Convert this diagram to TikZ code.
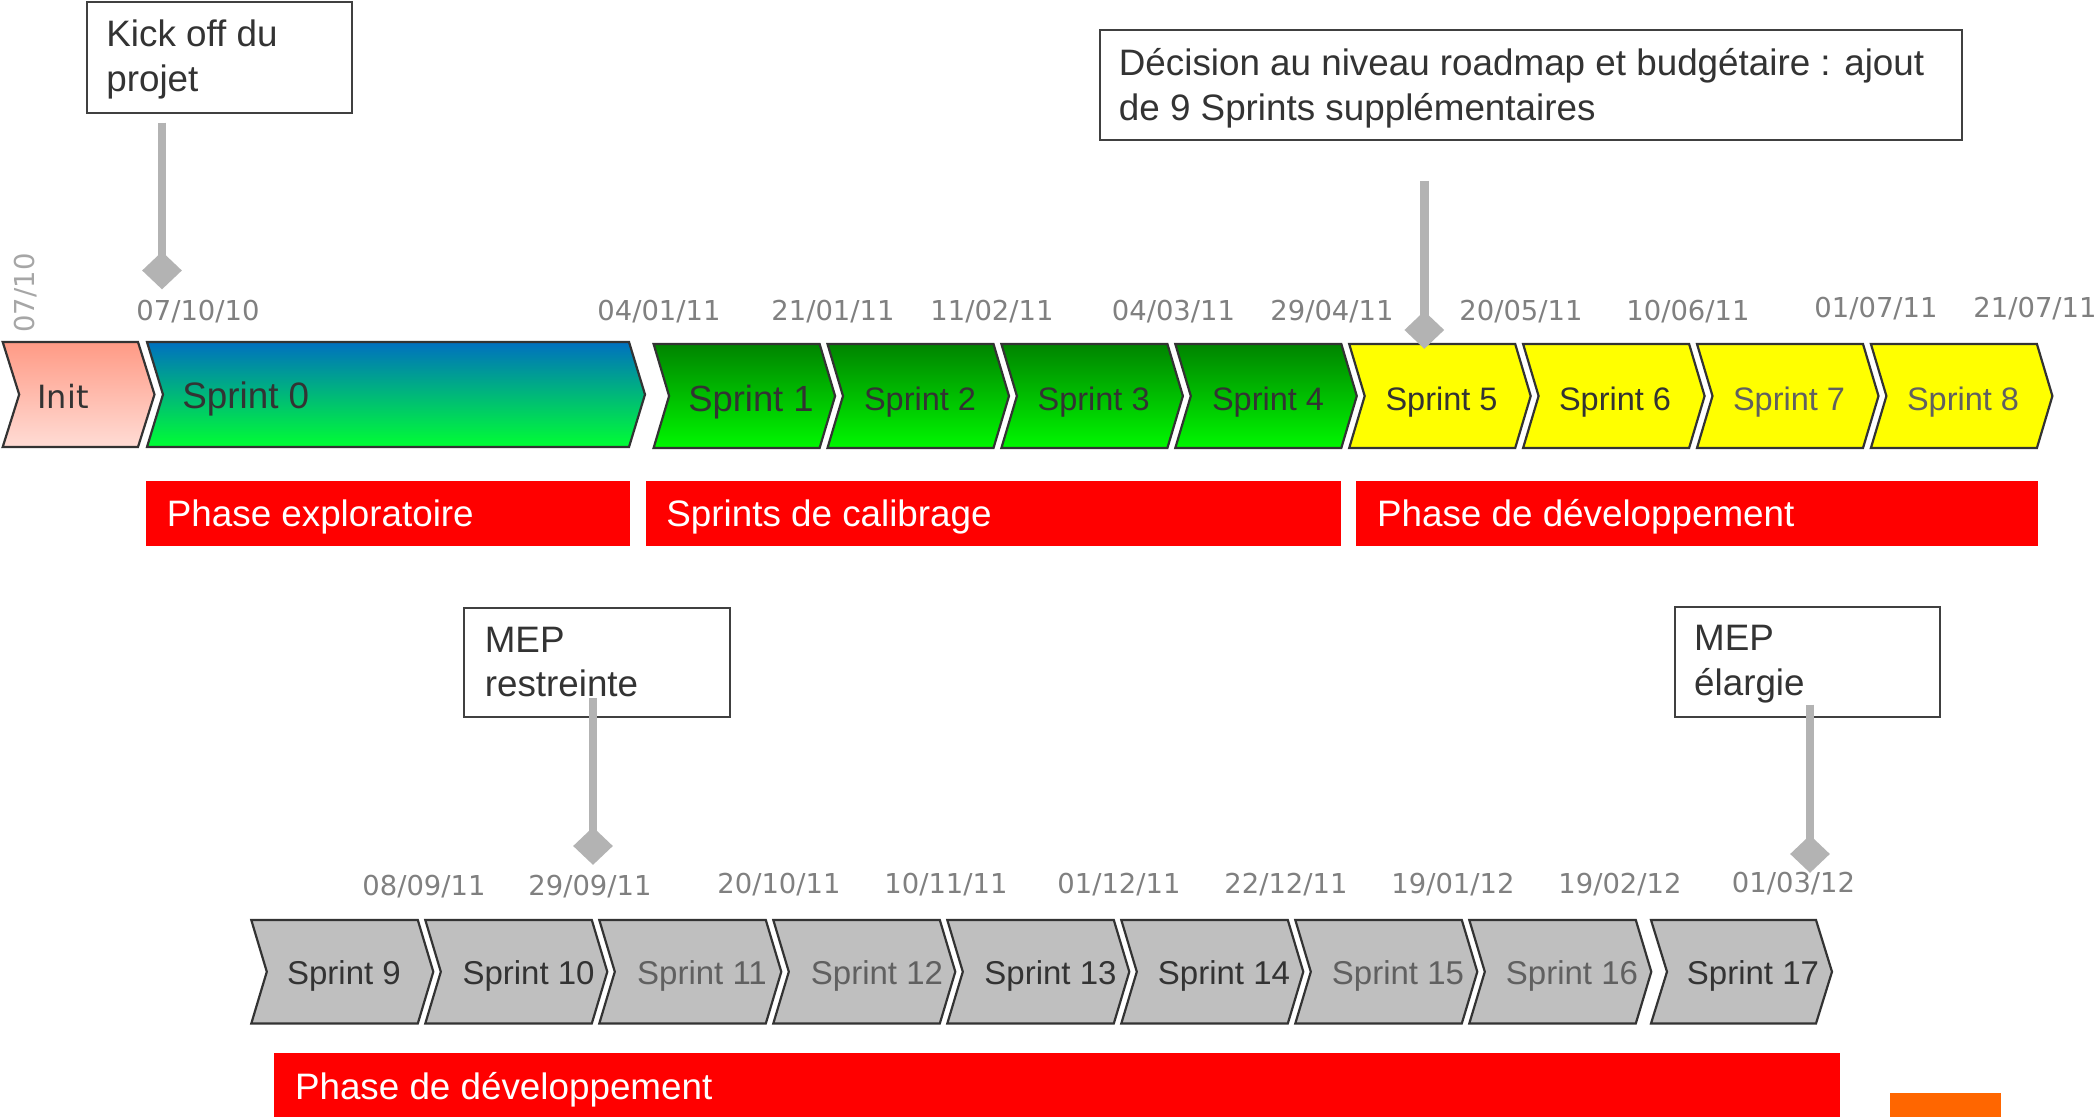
\documentclass[tikz,border=0pt]{standalone}
\usepackage{fontspec}
\setmainfont{Liberation Sans}
\newfontfamily\verdanalike{DejaVu Sans}
\usetikzlibrary{shapes.geometric}
\definecolor{txtdark}{HTML}{333333}
\definecolor{txtlight}{HTML}{606060}
\definecolor{dategray}{HTML}{808080}
\definecolor{dategraylight}{HTML}{A6A6A6}
\definecolor{stemgray}{HTML}{B3B3B3}
\definecolor{boxline}{HTML}{404040}
\definecolor{chevborder}{HTML}{333333}
\definecolor{phasered}{HTML}{FF0000}
\definecolor{orangemark}{HTML}{FF6600}
\definecolor{sprgray}{HTML}{BFBFBF}
\definecolor{spryellow}{HTML}{FFFF00}
\definecolor{sprgreentop}{HTML}{008400}
\definecolor{sprgreenbot}{HTML}{00F800}
\definecolor{inittop}{HTML}{FF9A85}
\definecolor{initbot}{HTML}{FFDCD5}
\definecolor{s0top}{HTML}{0070C0}
\definecolor{s0bot}{HTML}{00FF33}
% #1 left x, #2 top y, #3 bottom y, #4 width, #5 depth, #6 fill options
\newcommand\drawchev[6]{%
  \path[chevline,#6] ({#1},{#2}) -- ({#1+#4},{#2}) -- ({#1+#4+#5},{(#2+#3)/2}) -- ({#1+#4},{#3}) -- ({#1},{#3}) -- ({#1+#5},{(#2+#3)/2}) -- cycle;}
\begin{document}
\begin{tikzpicture}[x=0.5pt,y=-0.5pt,
  callout/.style={draw=boxline, line width=1pt, fill=white, inner sep=0pt, anchor=north west},
  ctext/.style={anchor=base west, inner sep=0pt, text=txtdark, font=\fontsize{18.4}{22}\selectfont},
  datelbl/.style={anchor=base, inner sep=0pt, text=dategray, font=\verdanalike\fontsize{13.7}{16}\selectfont},
  phasebar/.style={fill=phasered, draw=none, inner sep=0pt, anchor=north west},
  phasetext/.style={anchor=base west, inner sep=0pt, text=white, font=\fontsize{18.4}{22}\selectfont},
  chevline/.style={draw=chevborder, line width=1.1pt, line join=miter},
  stem/.style={draw=stemgray, line width=4.3pt},
  milestone/.style={diamond, fill=stemgray, draw=none, inner sep=0pt, minimum width=20pt, minimum height=19pt},
  sprbig/.style={anchor=base, inner sep=0pt, text=txtdark, font=\fontsize{18.2}{22}\selectfont},
  sprsmall/.style={anchor=base, inner sep=0pt, text=txtdark, font=\fontsize{16.25}{20}\selectfont},
  sprlow/.style={anchor=base, inner sep=0pt, text=txtdark, font=\fontsize{16.5}{20}\selectfont},
  faded/.style={text=txtlight}
]
\useasboundingbox (0,0) rectangle (2100,1117);
\fill[white] (0,0) rectangle (2100,1117);

% ---------- callout boxes ----------
\node[callout, minimum width=132.65pt, minimum height=55.2pt] (kick) at (85.7,1.3) {};
\node[ctext] (kick1) at (106,46.7) {Kick off du};
\node[ctext] (kick2) at (106,91.7) {projet};

\node[callout, minimum width=431.15pt, minimum height=55.1pt] (dec) at (1098.7,29.3) {};
\node[ctext] (dec1) at (1118.5,76) {Décision au niveau roadmap et budgétaire : ajout};
\node[ctext] (dec2) at (1118.5,121) {de 9 Sprints supplémentaires};

\node[callout, minimum width=132.8pt, minimum height=54.85pt] (mepr) at (463.4,606.5) {};
\node[ctext] (mepr1) at (484.4,652) {MEP};
\node[ctext] (mepr2) at (484.4,696.7) {restreinte};

\node[callout, minimum width=132.55pt, minimum height=55pt] (mepe) at (1673.7,606) {};
\node[ctext] (mepe1) at (1693.75,650.6) {MEP};
\node[ctext] (mepe2) at (1693.75,695) {élargie};

% ---------- top row chevrons ----------
\drawchev{2.7}{342}{447}{135.3}{16.5}{top color=inittop, bottom color=initbot}
\drawchev{147}{342}{447}{482}{16}{top color=s0top, bottom color=s0bot}
\foreach \i in {1,...,4} {
  \drawchev{653.6+173.9*(\i-1)}{344}{448}{166}{15.5}{top color=sprgreentop, bottom color=sprgreenbot}
}
\foreach \i in {5,...,8} {
  \drawchev{653.6+173.9*(\i-1)}{344}{448}{166}{15.5}{fill=spryellow}
}
\node[anchor=base west, inner sep=0pt, text=txtdark, font=\verdanalike\fontsize{16}{20}\selectfont] (init) at (37,408.5) {Init};
\node[anchor=base west, inner sep=0pt, text=txtdark, font=\fontsize{18.4}{22}\selectfont] (s0) at (182,409) {Sprint 0};
\node[sprbig] (s1) at (751,411.5) {Sprint 1};
\node[sprsmall] (s2) at (920,410.5) {Sprint 2};
\node[sprsmall] (s3) at (1093.6,410.5) {Sprint 3};
\node[sprsmall] (s4) at (1268,410.5) {Sprint 4};
\node[sprsmall] (s5) at (1441.5,410.5) {Sprint 5};
\node[sprsmall] (s6) at (1615,410.5) {Sprint 6};
\node[sprsmall,faded] (s7) at (1789,410.5) {Sprint 7};
\node[sprsmall,faded] (s8) at (1963,410.5) {Sprint 8};

% ---------- top dates ----------
\node[datelbl, text=dategraylight, rotate=90, anchor=center] (d0) at (26,293) {07/10};
\node[datelbl] (d1) at (198,321) {07/10/10};
\node[datelbl] (d2) at (659,321) {04/01/11};
\node[datelbl] (d3) at (833,321) {21/01/11};
\node[datelbl] (d4) at (992,321) {11/02/11};
\node[datelbl] (d5) at (1173.5,321) {04/03/11};
\node[datelbl] (d6) at (1332,321) {29/04/11};
\node[datelbl] (d7) at (1521,321) {20/05/11};
\node[datelbl] (d8) at (1688,321) {10/06/11};
\node[datelbl] (d9) at (1876,318) {01/07/11};
\node[datelbl] (d10) at (2035,318) {21/07/11};

% ---------- top phase bars ----------
\node[phasebar, minimum width=242pt, minimum height=32.35pt] (ph1) at (146,481) {};
\node[phasetext] (ph1t) at (166.5,526.5) {Phase exploratoire};
\node[phasebar, minimum width=347.5pt, minimum height=32.35pt] (ph2) at (646,481) {};
\node[phasetext] (ph2t) at (666,526.5) {Sprints de calibrage};
\node[phasebar, minimum width=340.85pt, minimum height=32.35pt] (ph3) at (1356,481) {};
\node[phasetext] (ph3t) at (1376.7,526.5) {Phase de développement};

% ---------- bottom row chevrons ----------
\foreach \i in {9,...,16} {
  \drawchev{251.3+174*(\i-9)}{920}{1023.5}{166.5}{15.5}{fill=sprgray}
}
\drawchev{1651}{920}{1023.5}{165}{16}{fill=sprgray}
\node[sprlow] (s9) at (344,984) {Sprint 9};
\node[sprlow] (s10) at (528.6,984) {Sprint 10};
\node[sprlow,faded] (s11) at (702,984) {Sprint 11};
\node[sprlow,faded] (s12) at (877,984) {Sprint 12};
\node[sprlow] (s13) at (1050.5,984) {Sprint 13};
\node[sprlow] (s14) at (1224,984) {Sprint 14};
\node[sprlow,faded] (s15) at (1398,984) {Sprint 15};
\node[sprlow,faded] (s16) at (1572,984) {Sprint 16};
\node[sprlow] (s17) at (1753,984) {Sprint 17};

% ---------- bottom dates ----------
\node[datelbl] (e1) at (424,895.5) {08/09/11};
\node[datelbl] (e2) at (590,895.5) {29/09/11};
\node[datelbl] (e3) at (779,893) {20/10/11};
\node[datelbl] (e4) at (946,893) {10/11/11};
\node[datelbl] (e5) at (1119,893) {01/12/11};
\node[datelbl] (e6) at (1286,893) {22/12/11};
\node[datelbl] (e7) at (1453,893) {19/01/12};
\node[datelbl] (e8) at (1620,893.5) {19/02/12};
\node[datelbl] (e9) at (1793.5,892) {01/03/12};

% ---------- bottom phase bar and orange mark ----------
\node[phasebar, minimum width=782.85pt, minimum height=32pt] (ph4) at (274,1053) {};
\node[phasetext] (ph4t) at (294.6,1099) {Phase de développement};
\node[fill=orangemark, draw=none, inner sep=0pt, anchor=north west, minimum width=55.35pt, minimum height=12pt] (orng) at (1889.7,1093) {};

% ---------- milestone stems and diamonds ----------
\coordinate (kstem) at (162,122.7);
\coordinate (dstem) at (1424.3,181);
\coordinate (rstem) at (593,698);
\coordinate (estem) at (1810,704.6);
\node[milestone] (kdia) at (162,270.5) {};
\node[milestone] (ddia) at (1424.3,330) {};
\node[milestone] (rdia) at (593,846) {};
\node[milestone] (edia) at (1810,854) {};
\draw[stem] (kstem) -- (kdia.center);
\draw[stem] (dstem) -- (ddia.center);
\draw[stem] (rstem) -- (rdia.center);
\draw[stem] (estem) -- (edia.center);
\end{tikzpicture}
\end{document}
